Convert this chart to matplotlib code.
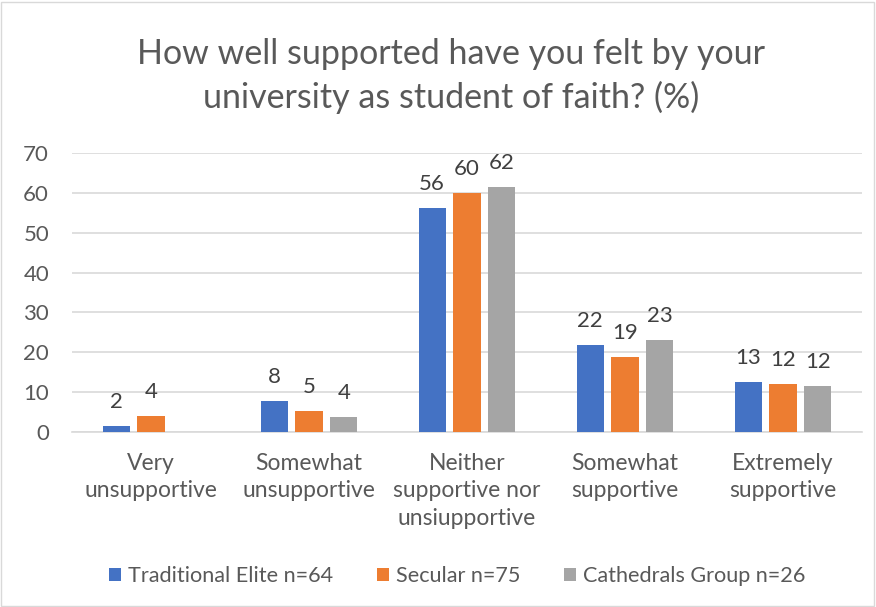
import matplotlib
matplotlib.use("Agg")
import matplotlib.pyplot as plt
import numpy as np
from matplotlib.patches import Rectangle

plt.rcParams['font.family'] = ['Lato', 'DejaVu Sans']

categories = ["Very\nunsupportive", "Somewhat\nunsupportive",
              "Neither\nsupportive nor\nunsiupportive", "Somewhat\nsupportive",
              "Extremely\nsupportive"]
series_names = ["Traditional Elite n=64", "Secular n=75", "Cathedrals Group n=26"]
traditional_elite = [1.6, 7.8, 56.3, 21.8, 12.5]
secular = [4.0, 5.3, 60.0, 18.7, 12.0]
cathedrals = [None, 3.8, 61.5, 23.0, 11.5]
colors = ["#4472C4", "#ED7D31", "#A5A5A5"]
title = "How well supported have you felt by your\nuniversity as student of faith? (%)"
yticks = [0, 10, 20, 30, 40, 50, 60, 70]

fig = plt.figure(figsize=(8.76, 6.07), dpi=100)
ax = fig.add_axes([72/876, 1-432/607, 790/876, 279/607])

x = np.arange(len(categories))
bw = 0.171
pitch = 0.221
text_col = "#595959"
for i, (vals, c, name) in enumerate(zip([traditional_elite, secular, cathedrals], colors, series_names)):
    xs = [xi + (i-1)*pitch for xi, v in zip(x, vals) if v is not None]
    vs = [v for v in vals if v is not None]
    ax.bar(xs, vs, width=bw, color=c, label=name, zorder=3)
    for xx, v in zip(xs, vs):
        ax.annotate(str(int(v + 0.5)), (xx, v), xytext=(0, 13), textcoords='offset points',
                    ha='center', va='baseline', fontsize=16, color="#404040")

ax.set_xlim(-0.5, len(categories)-0.5)
ax.set_ylim(0, 70)
ax.set_yticks(yticks)
ax.set_xticks(x)
ax.set_xticklabels(categories, fontsize=16.5, color=text_col, linespacing=1.38)
ax.tick_params(axis='y', labelsize=16, labelcolor=text_col, length=0, pad=16.5)
ax.tick_params(axis='x', length=0, pad=15)
ax.grid(axis='y', color="#D9D9D9", linewidth=1.2, zorder=0)
for s in ['top', 'right', 'left']:
    ax.spines[s].set_visible(False)
ax.spines['bottom'].set_color("#D9D9D9")
ax.spines['bottom'].set_linewidth(1.2)

fig.text(0.515, 1-76/607, title, ha='center', va='center', fontsize=24.5,
         color=text_col, linespacing=1.42)

leg = fig.legend(loc='center', bbox_to_anchor=(0.522, 1-576/607), ncol=3, frameon=False,
                 fontsize=15.6, handlelength=0.55, handleheight=0.55, handletextpad=0.35,
                 columnspacing=2.0)
for t in leg.get_texts():
    t.set_color(text_col)

fig.patches.append(Rectangle((1/876, 1/607), 873/876, 604/607, transform=fig.transFigure,
                             fill=False, edgecolor="#D9D9D9", linewidth=1))

fig.savefig("out.png", dpi=100, facecolor='white')
